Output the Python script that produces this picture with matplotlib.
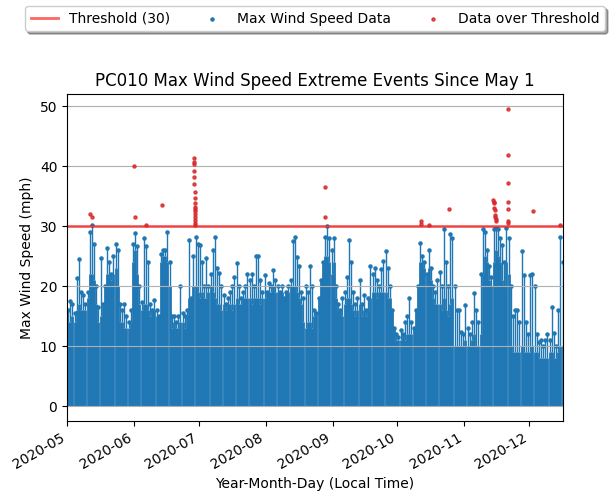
import matplotlib
matplotlib.use("Agg")
import matplotlib.pyplot as plt
import matplotlib.dates as mdates
import numpy as np
import pandas as pd

THRESHOLD = 30

# daily peak of the readings below the threshold, May 1 .. Dec 16 (mph)
DAILY_MAX = [
    16, 17.5, 17, 15.5, 21.3, 24.5, 19, 18.6, 17, 19,
    29, 30.2, 27, 20, 16.5, 24.7, 17, 20, 26.3, 24,
    22, 25, 27, 26, 17, 16, 17, 15, 14, 16,
    27, 28.9, 26.7, 20, 17.4, 28, 26.7, 24, 17, 16,
    17.7, 16, 15, 25.3, 26, 26, 29.1, 24, 15, 15,
    14, 15, 20, 15.5, 15, 16, 27.8, 18, 25, 28.3,
    27, 26.9, 24, 20, 24.7, 20, 22, 26, 28.3, 23,
    22.2, 20, 18.6, 17, 18, 19, 20, 21.6, 23.9, 20,
    18, 19, 20, 22, 21, 22, 20, 25, 25, 21,
    19, 21.9, 19, 20.6, 20, 22.7, 21, 20, 19, 20,
    18, 19, 20, 21, 27.6, 28.3, 24.8, 23.3, 19, 18,
    20, 19, 23.3, 20, 16, 15.5, 18, 21, 24, 28.3,
    30, 28, 26, 28, 20, 17, 16, 18, 19, 21.6,
    27.8, 24.1, 19, 17, 18, 21, 17, 18.6, 16, 18,
    23.3, 22, 23, 21, 20, 22.9, 24.2, 25.8, 23, 20.1,
    16, 13, 12, 11.5, 12.7, 12, 14, 15, 18, 14,
    13, 16, 20, 27.2, 25, 24, 22, 26, 23, 20,
    19, 21, 22.4, 20, 29.5, 24, 20, 28.8, 28, 20,
    16, 16, 12.4, 12, 16.9, 13, 12, 14, 18.8, 16,
    14, 22, 29.6, 29.1, 26, 23.3, 21.6, 29.5, 29.7, 29.5,
    28, 26.9, 24, 29.7, 28, 20, 15, 16.1, 16, 14,
    25.8, 21.9, 14, 12, 21.9, 22, 20, 12, 10.7, 11,
    10, 11, 12, 11, 16.6, 12.2, 10, 16, 28.3, 24,
]

# top of the dense bulk of readings for each day (mph)
DAILY_CORE = [
    14, 14, 15, 14, 16, 17, 16, 16, 16, 18,
    22, 22, 21, 17, 14, 15, 19, 20, 22, 22,
    21, 22, 23, 20, 14, 14, 13, 13, 13, 14,
    24, 26, 22, 17, 16, 17, 17, 16, 15, 16,
    16, 15, 22, 24, 25, 25, 24, 20, 13, 14,
    13, 13, 14, 14, 13, 15, 18, 19, 20, 20,
    19, 18, 19, 18, 18, 19, 20, 19, 18, 17,
    17, 16, 17, 16, 17, 17, 16, 17, 18, 17,
    17, 18, 18, 18, 18, 17, 18, 18, 18, 17,
    18, 18, 19, 19, 19, 20, 19, 19, 20, 19,
    18, 19, 19, 20, 20, 20, 19, 18, 17, 14,
    13, 14, 14, 13, 15, 17, 20, 23, 25, 25,
    25, 24, 22, 24, 18, 16, 16, 15, 17, 18,
    18, 17, 16, 15, 16, 17, 15, 16, 15, 16,
    18, 19, 19, 18, 19, 19, 19, 19, 18, 18,
    17, 13, 11, 11, 11, 12, 11, 12, 12, 12,
    13, 18, 22, 24, 24, 23, 22, 23, 21, 18,
    17, 17, 17, 16, 18, 16, 15, 17, 18, 10,
    10, 10, 10, 10, 11, 10, 10, 11, 12, 10,
    10, 12, 22, 25, 24, 21, 20, 24, 26, 25,
    24, 21, 20, 24, 22, 10, 9, 9, 9, 9,
    10, 9, 9, 9, 9, 10, 9, 9, 8, 8,
    8, 8, 8, 9, 9, 8, 8, 9, 10, 10,
]
DAILY_MIN = [0] * len(DAILY_MAX)

OVER_TIMES = [
    "2020-05-11 17:00", "2020-05-12 14:00",
    "2020-06-01 05:00", "2020-06-01 12:00",
    "2020-06-06 14:00", "2020-06-13 19:00",
    "2020-06-28 22:00", "2020-06-28 22:30", "2020-06-28 23:00", "2020-06-28 23:30",
    "2020-06-29 00:00", "2020-06-29 00:30", "2020-06-29 01:00", "2020-06-29 01:30",
    "2020-06-29 02:00", "2020-06-29 02:30", "2020-06-29 03:00", "2020-06-29 03:30",
    "2020-06-29 04:00", "2020-06-29 04:30", "2020-06-29 05:00", "2020-06-29 05:30",
    "2020-06-29 06:00",
    "2020-08-28 12:00", "2020-08-28 14:00",
    "2020-10-11 18:00", "2020-10-11 20:00", "2020-10-15 17:00",
    "2020-10-25 02:00",
    "2020-11-14 08:00", "2020-11-14 12:00", "2020-11-14 16:00", "2020-11-14 20:00",
    "2020-11-15 00:00", "2020-11-15 06:00", "2020-11-15 10:00", "2020-11-15 14:00",
    "2020-11-15 20:00",
    "2020-11-21 03:00", "2020-11-21 04:00", "2020-11-21 05:00", "2020-11-21 06:00",
    "2020-11-21 07:00", "2020-11-21 08:00", "2020-11-21 09:00",
    "2020-12-02 19:00", "2020-12-15 07:00",
]
OVER_VALUES = [
    32.0, 31.6,
    40.0, 31.6,
    30.2, 33.5,
    41.4, 40.8, 40.4, 39.2,
    38.3, 37.0, 35.8, 34.8,
    33.9, 33.3, 32.9, 32.6,
    32.1, 31.5, 31.1, 30.6, 30.3,
    36.5, 31.5,
    30.9, 30.4, 30.3,
    32.9,
    34.4, 34.1, 33.9, 33.1,
    32.7, 31.9, 31.6, 31.2, 30.9,
    49.6, 41.9, 37.2, 34.0,
    32.9, 30.9, 30.6,
    32.6, 30.3,
]

days = pd.date_range("2020-05-01 12:00", periods=len(DAILY_MAX), freq="D")
over_times = pd.to_datetime(OVER_TIMES)
peak = np.array(DAILY_MAX)
core = np.minimum(np.array(DAILY_CORE), peak)

fig = plt.figure(figsize=(6.15, 5.01), dpi=100)
ax = fig.add_axes([0.109, 0.1597, 0.8064, 0.6527])

blue = "#1f77b4"
ax.axhline(THRESHOLD, color="red", alpha=0.6, lw=2, label="Threshold (30)", zorder=2)
ax.vlines(days, DAILY_MIN, core, color=blue, lw=2.0, zorder=1)
ax.vlines(days, core, peak, color=blue, lw=1.0, zorder=1)
ax.scatter(days, peak, s=5, color=blue, zorder=1, label="Max Wind Speed Data")
ax.scatter(over_times, OVER_VALUES, s=5, color="#d62728", alpha=0.8, zorder=3,
           label="Data over Threshold")

ax.set_xlim(pd.Timestamp("2020-05-01"), pd.Timestamp("2020-12-16 16:00"))
ax.set_ylim(-2.48, 52.08)
ax.grid(axis="y")
ax.xaxis.set_major_locator(mdates.MonthLocator())
ax.xaxis.set_major_formatter(mdates.DateFormatter("%Y-%m"))
plt.setp(ax.get_xticklabels(), rotation=30, ha="right")

ax.set_title("PC010 Max Wind Speed Extreme Events Since May 1")
ax.set_xlabel("Year-Month-Day (Local Time)")
ax.set_ylabel("Max Wind Speed (mph)")

ax.legend(loc="upper center", bbox_to_anchor=(0.5, 1.29), ncol=3,
          fancybox=True, shadow=True)

fig.savefig("out.png", dpi=100)
